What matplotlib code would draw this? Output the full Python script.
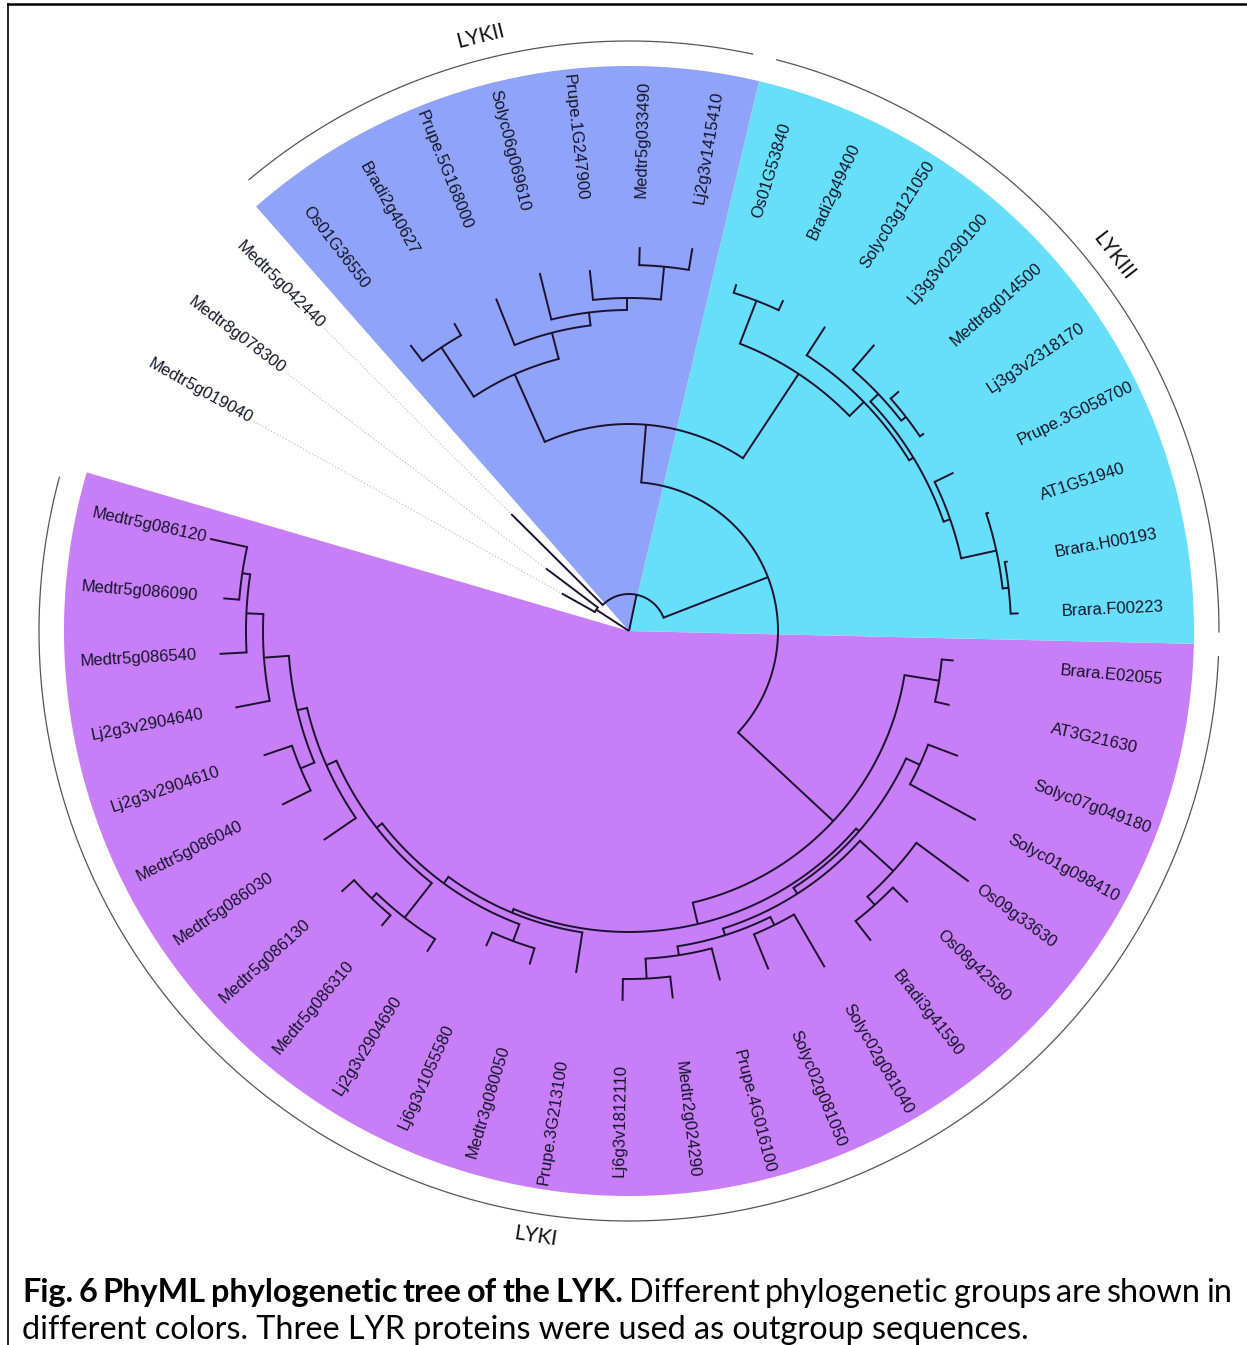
import numpy as np
import matplotlib
matplotlib.use("Agg")
import matplotlib.pyplot as plt

# tree: number after ':' / ')' = distance of that tip / node from the centre
TREE = (
    "(((((((((((((Medtr5g086120:429,Medtr5g086090:407)391,Medtr5g086540:410)383,"
    "Lj2g3v2904640:401)366,(Lj2g3v2904610:386,Medtr5g086040:388)356)341,"
    "Medtr5g086030:370)331,((Medtr5g086130:388,Medtr5g086310:385)371,"
    "Lj2g3v2904690:379)364)320,(Lj6g3v1055580:346,Medtr3g080050:348)331)313,"
    "Prupe.3G213100:346)305,"
    "(((((Lj6g3v1812110:370,Medtr2g024290:370)348,Prupe.4G016100:361)328,"
    "(Solyc02g081050:366,Solyc02g081040:389)328)319,"
    "((Bradi3g41590:393,Os08g42580:389)368,Os09g33630:422)357)312,"
    "(Solyc01g098410:395,Solyc07g049180:352)320)305)301,"
    "(AT3G21630:329,Brara.E02055:326)314)279,"
    "(((((((Brara.F00223:390,Brara.H00193:385)382,AT1G51940:379)376,"
    "Prupe.3G058700:361)340,((Lj3g3v2318170:355,Medtr8g014500:361)350,"
    "Lj3g3v0290100:377)344)333,Solyc03g121050:362)328,"
    "(Bradi2g49400:365,Os01G53840:363)354)308,"
    "(((((Lj2g3v1415410:388,Medtr5g033490:384)366,Prupe.1G247900:363)333,"
    "Solyc06g069610:369)321,Prupe.5G168000:358)308,"
    "(Bradi2g40627:354,Os01G36550:360)340)281)207)149,"
    "Medtr5g042440:166)37,"
    "(Medtr8g078300:104,Medtr5g019040:77)39)0"
)

group_names = ["LYKI", "LYKIII", "LYKII"]
group_first = ["Medtr5g086120", "Brara.F00223", "Lj2g3v1415410"]
group_last = ["Brara.E02055", "Os01G53840", "Os01G36550"]
group_colors = ["#c77ef6", "#67dff9", "#8fa3f8"]

caption_bold = "Fig. 6 PhyML phylogenetic tree of the LYK."
caption_rest = "Different phylogenetic groups are shown in"
caption_line2 = "different colors. Three LYR proteins were used as outgroup sequences."

CX, CY = 629, 631
START, STEP = 167.6, 7.8
LABEL_R = 433
WEDGE_R = 565
ARC_R = 590
LINE_C = "#1c1230"


def parse(s, i=0):
    if s[i] == "(":
        kids = []
        i += 1
        while True:
            kid, i = parse(s, i)
            kids.append(kid)
            if s[i] == ",":
                i += 1
                continue
            i += 1
            break
        j = i
        while j < len(s) and (s[j].isdigit() or s[j] == "."):
            j += 1
        return {"r": float(s[i:j]), "kids": kids}, j
    j = s.index(":", i)
    k = j + 1
    while k < len(s) and (s[k].isdigit() or s[k] == "."):
        k += 1
    return {"name": s[i:j], "r": float(s[j + 1:k]), "kids": []}, k


root, _ = parse(TREE)
leaves = []


def set_angles(node):
    if not node["kids"]:
        node["a"] = START + STEP * len(leaves)
        leaves.append(node)
    else:
        for k in node["kids"]:
            set_angles(k)
        node["a"] = (node["kids"][0]["a"] + node["kids"][-1]["a"]) / 2


set_angles(root)
angle_of = {n["name"]: n["a"] for n in leaves}


def xy(r, a):
    t = np.radians(a)
    return CX + r * np.cos(t), CY - r * np.sin(t)


def arc(r, a1, a2, n=None):
    n = n or max(3, int(abs(a2 - a1) * 3))
    aa = np.linspace(a1, a2, n)
    return xy(r, aa)


fig = plt.figure(figsize=(12.47, 13.45), dpi=100)
ax = fig.add_axes([0, 0, 1, 1])
ax.set_xlim(0, 1247)
ax.set_ylim(1345, 0)
ax.axis("off")

# coloured clade sectors, outer arcs and clade names
for name, f, l, col in zip(group_names, group_first, group_last, group_colors):
    a1 = angle_of[f] - STEP / 2
    a2 = angle_of[l] + STEP / 2
    px, py = arc(WEDGE_R, a1, a2)
    ax.fill(np.r_[CX, px, CX], np.r_[CY, py, CY], color=col, lw=0, zorder=1)
    ox, oy = arc(ARC_R, a1 + 1.2, a2 - 1.2)
    ax.plot(ox, oy, color="#555555", lw=0.9, zorder=1)
    am = (a1 + a2) / 2
    tx, ty = xy(ARC_R + 23, am)
    rot = (am - 90) % 360
    if 90 < rot < 270:
        rot -= 180
    ax.text(tx, ty, name, fontsize=15, family="Lato", rotation=rot,
            ha="center", va="center", rotation_mode="anchor", color="#111111")


def draw(node, parent_r):
    a = node["a"]
    if parent_r is not None:
        x, y = xy(np.array([parent_r, node["r"]]), a)
        ax.plot(x, y, color=LINE_C, lw=1.4, solid_capstyle="butt", zorder=3)
    if node["kids"]:
        x, y = arc(node["r"], node["kids"][0]["a"], node["kids"][-1]["a"])
        if node["r"] > 0:
            ax.plot(x, y, color=LINE_C, lw=1.4, zorder=3)
        for k in node["kids"]:
            draw(k, node["r"])


for k in root["kids"]:
    draw(k, 0.0)

# tip labels, aligned on one circle; dotted leaders sit under the sectors
for lf in leaves:
    a = lf["a"]
    x, y = xy(np.array([lf["r"] + 2, LABEL_R - 3]), a)
    ax.plot(x, y, color="#b8b8b8", lw=0.8, ls=(0, (1, 2)), zorder=0.5)
    tx, ty = xy(LABEL_R, a)
    an = a % 360
    if 90 < an < 270:
        ax.text(tx, ty, lf["name"], fontsize=12, family="Liberation Sans",
                rotation=an - 180, ha="right", va="center",
                rotation_mode="anchor", color="#15152a", zorder=4)
    else:
        ax.text(tx, ty, lf["name"], fontsize=12, family="Liberation Sans",
                rotation=an if an < 90 else an - 360, ha="left", va="center",
                rotation_mode="anchor", color="#15152a", zorder=4)

# frame
ax.plot([8, 1247], [4, 4], color="black", lw=1.8)
ax.plot([8, 8], [4, 1345], color="black", lw=1.2)

# caption, first line justified
renderer = fig.canvas.get_renderer()
probe = ax.text(0, 0, caption_line2, fontsize=20, family="Lato")
fs = 20 * 1008 / probe.get_window_extent(renderer).width
probe.remove()

words = [(w, "bold") for w in caption_bold.split()] + \
        [(w, "normal") for w in caption_rest.split()]
texts = []
for w, wt in words:
    texts.append(ax.text(0, 1302, w, fontsize=fs, family="Lato", weight=wt,
                         ha="left", va="baseline", color="black"))
widths = [t.get_window_extent(renderer).width for t in texts]
gap = (1232 - 22 - sum(widths)) / (len(words) - 1)
x = 22
for t, w in zip(texts, widths):
    t.set_x(x)
    x += w + gap
ax.text(22, 1339, caption_line2, fontsize=fs, family="Lato",
        ha="left", va="baseline", color="black")

fig.savefig("out.png", dpi=100)
